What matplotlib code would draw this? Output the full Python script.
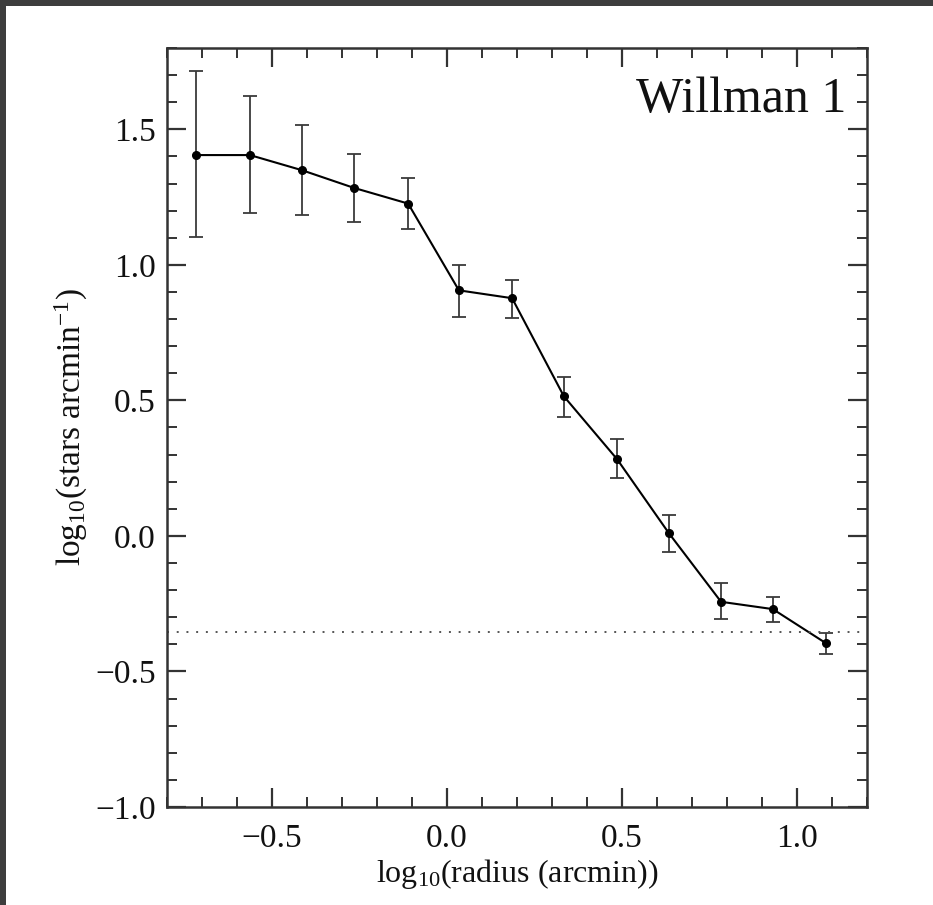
import numpy as np
import matplotlib
matplotlib.use("Agg")
from matplotlib import pyplot as plt
from matplotlib.patches import Rectangle
from matplotlib.ticker import MultipleLocator

# radial profile of Willman 1
log_radius = [-0.717, -0.563, -0.414, -0.266, -0.111, 0.034, 0.186,
              0.334, 0.486, 0.634, 0.783, 0.931, 1.083]
log_density = [1.405, 1.405, 1.349, 1.284, 1.226, 0.906, 0.877,
               0.515, 0.283, 0.010, -0.243, -0.270, -0.396]
err_low = [0.303, 0.215, 0.164, 0.126, 0.094, 0.099, 0.074,
           0.077, 0.070, 0.070, 0.064, 0.048, 0.040]
err_high = [0.309, 0.219, 0.166, 0.126, 0.096, 0.093, 0.066,
            0.071, 0.074, 0.067, 0.069, 0.044, 0.037]
background = -0.356

plt.rcParams['font.family'] = ['Liberation Serif', 'DejaVu Serif']
plt.rcParams['mathtext.fontset'] = 'custom'
plt.rcParams['mathtext.rm'] = 'Liberation Serif'
plt.rcParams['mathtext.it'] = 'Liberation Serif:italic'

W, H = 933, 905
fig = plt.figure(figsize=(W / 100, H / 100), dpi=100)
fig.patch.set_facecolor("white")

# dark frame strips along top and left edge
fig.patches.append(Rectangle((0, 1 - 6 / H), 1, 6 / H, transform=fig.transFigure,
                             facecolor="#3d3d3d", edgecolor="none", zorder=0))
fig.patches.append(Rectangle((0, 0), 6 / W, 1, transform=fig.transFigure,
                             facecolor="#3d3d3d", edgecolor="none", zorder=0))

ax = fig.add_axes([167 / W, 1 - 807 / H, 700 / W, 759 / H])

ax.errorbar(log_radius, log_density, yerr=[err_low, err_high],
            fmt="none", ecolor="#3a3a3a", elinewidth=1.3, capsize=5, capthick=1.3)
ax.plot(log_radius, log_density, color="black", lw=1.5,
        marker="o", markersize=5.5)
ax.axhline(background, color="#555555", lw=1.4, ls=(0, (1, 4)))

ax.set_xlim(-0.8, 1.2)
ax.set_ylim(-1.0, 1.8)
ax.xaxis.set_major_locator(MultipleLocator(0.5))
ax.xaxis.set_minor_locator(MultipleLocator(0.1))
ax.yaxis.set_major_locator(MultipleLocator(0.5))
ax.yaxis.set_minor_locator(MultipleLocator(0.1))
ax.xaxis.set_major_formatter(lambda v, p: f"{v:.1f}".replace("-", "\u2212"))
ax.yaxis.set_major_formatter(lambda v, p: f"{v:.1f}".replace("-", "\u2212"))

ax.tick_params(which="both", direction="in", top=True, right=True,
               color="#333333", labelsize=24, labelcolor="#111111")
ax.tick_params(which="major", length=14, width=1.6)
ax.tick_params(which="minor", length=7, width=1.4)
ax.tick_params(axis="x", pad=12)
ax.tick_params(axis="y", pad=8)
for s in ax.spines.values():
    s.set_linewidth(1.8)
    s.set_color("#333333")

ax.set_xlabel(r"log$_{10}$(radius (arcmin))", fontsize=23, color="#111111", labelpad=2)
ax.set_ylabel(r"log$_{10}$(stars arcmin$^{-1}$)", fontsize=24, color="#111111", labelpad=4)
ax.text(0.971, 0.9157, "Willman 1", transform=ax.transAxes, ha="right", va="baseline",
        fontsize=36, color="#111111")

fig.savefig("out.png", dpi=100, facecolor=fig.get_facecolor())
